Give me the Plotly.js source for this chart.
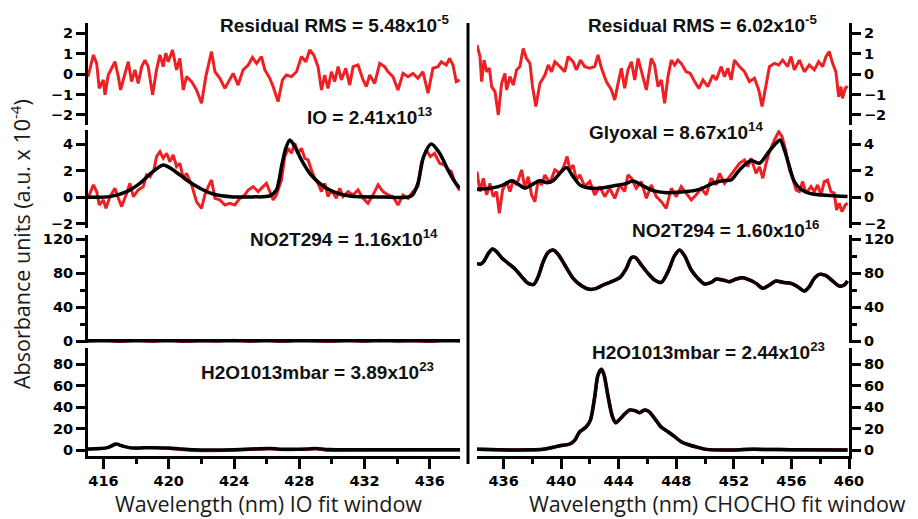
<!DOCTYPE html>
<html><head><meta charset="utf-8">
<script src="https://cdn.plot.ly/plotly-3.0.1.min.js"></script>
<style>html,body{margin:0;padding:0;background:#fff}#chart{width:918px;height:519px}</style>
</head><body><div id="chart"></div>
<script>
// ---------- DATA ----------
const resLeftX = [415.05,415.38,415.58,415.74,415.99,416.09,416.29,416.50,416.70,416.91,417.05,417.32,417.52,417.72,417.93,418.13,418.34,418.54,418.74,419.01,419.25,419.46,419.66,419.81,419.97,420.23,420.48,420.68,420.89,421.09,421.40,421.70,422.01,422.27,422.62,422.83,423.13,423.44,423.74,423.95,424.25,424.56,424.87,425.13,425.38,425.68,425.89,426.19,426.40,426.70,426.97,427.21,427.52,427.83,428.13,428.40,428.64,428.89,429.15,429.36,429.56,429.76,429.97,430.17,430.38,430.58,430.85,431.09,431.30,431.60,431.91,432.11,432.32,432.62,432.93,433.23,433.44,433.74,434.05,434.36,434.66,434.97,435.27,435.58,435.89,436.19,436.50,436.70,437.01,437.21,437.42,437.62,437.83];
const resLeftY = [-0.13,0.93,0.52,-0.70,-0.29,-1.02,-0.05,0.28,0.60,-0.13,-0.78,0.03,0.60,-0.37,0.20,-0.46,0.36,0.68,0.36,-1.02,0.20,0.93,0.36,1.01,0.60,1.17,0.20,0.76,-0.78,-0.13,-0.37,-0.78,-1.43,-0.13,1.09,0.11,-0.21,-0.70,-0.29,0.03,-0.54,0.20,0.44,0.81,0.52,0.85,0.20,-0.21,-0.62,-1.35,-0.29,-0.05,-0.13,0.11,0.85,0.60,1.17,0.93,0.36,-0.78,-0.05,-0.70,0.11,-0.37,0.36,-0.29,0.28,-0.54,0.36,0.44,-0.29,-0.62,-0.05,-0.46,0.52,0.36,0.11,-0.13,-0.78,0.03,-0.13,0.03,-0.21,0.11,-0.94,0.28,0.36,0.60,0.44,0.76,0.44,-0.37,-0.29];

const ioMeasX = [415.05,415.38,415.58,415.74,415.99,416.15,416.40,416.70,416.91,417.11,417.42,417.62,417.83,418.13,418.44,418.64,418.85,419.09,419.25,419.46,419.66,419.87,420.07,420.27,420.48,420.68,420.89,421.09,421.40,421.70,422.01,422.21,422.42,422.62,422.83,423.13,423.44,423.74,424.05,424.36,424.66,424.87,425.17,425.48,425.78,425.99,426.19,426.40,426.60,426.91,427.11,427.32,427.52,427.72,427.93,428.13,428.34,428.54,428.74,428.95,429.15,429.36,429.56,429.76,429.97,430.27,430.48,430.68,430.99,431.30,431.60,431.91,432.21,432.52,432.83,433.13,433.44,433.74,434.05,434.36,434.66,434.97,435.27,435.48,435.78,436.03,436.29,436.60,436.91,437.11,437.32,437.52,437.83];
const ioMeas = [-0.08,0.93,0.43,-0.58,-0.20,-0.83,0.05,0.68,-0.08,-0.70,0.30,1.05,0.05,0.55,0.80,1.68,1.55,2.06,3.06,3.43,2.93,3.31,2.68,3.18,2.31,2.56,1.43,1.80,0.93,-0.33,-0.83,0.18,0.80,1.30,-0.08,-0.20,-0.58,-0.45,-0.58,-0.08,0.18,0.55,0.80,0.43,0.80,1.05,0.43,-0.20,0.18,1.30,3.06,3.68,3.31,4.06,3.31,3.68,2.93,2.81,2.06,1.43,1.05,0.43,1.05,0.05,0.55,-0.08,0.68,0.05,0.43,0.18,0.55,-0.08,-0.45,0.18,0.93,0.43,0.18,0.05,-0.58,0.18,-0.08,0.43,0.80,2.56,3.56,3.06,3.31,2.56,2.43,2.06,1.93,1.18,0.50];
const ioFitX = [415.05,416.40,417.42,418.23,418.95,419.66,420.27,421.09,421.91,422.72,423.95,425.17,426.19,426.60,426.91,427.17,427.42,427.72,428.13,428.64,429.25,430.07,431.09,433.13,434.87,435.27,435.62,436.09,436.60,437.11,437.52,437.83];
const ioFit = [0.00,0.05,0.43,1.05,1.85,2.43,2.06,1.30,0.68,0.25,0.03,0.03,0.10,0.55,2.31,3.68,4.31,3.81,2.81,1.80,1.05,0.43,0.10,0.03,0.10,1.05,3.06,4.01,3.31,2.06,1.18,0.68];

const no2LeftX = [415.05,416,417,418,419,420,421,422,423,424,425,426,427,428,429,430,431,432,433,434,435,436,437,437.85];
const no2LeftFit = [0.4,0.4,0.3,0.3,0.4,0.3,0.3,0.3,0.4,0.3,0.3,0.3,0.3,0.3,0.3,0.3,0.3,0.3,0.3,0.3,0.3,0.3,0.3,0.3];
const no2LeftMeas = [-0.5,0.8,-1.2,0.6,-0.8,1.0,-1.5,0.4,-0.6,1.2,-1.0,0.5,-1.4,0.9,-0.3,-1.1,0.7,-0.9,1.1,-0.6,0.3,-1.3,0.8,-0.4];

const h2oLeftX = [415.05,415.8,416.3,416.75,417.2,417.7,419.0,420.0,420.7,421.5,424.0,426.2,426.8,428.5,429.0,429.8,432.0,437.85];
const h2oLeftFit = [1.0,1.3,2.5,5.5,3.5,2.0,2.2,1.8,1.0,0.3,0.3,1.5,0.8,1.0,1.5,0.4,0.2,0.2];
const h2oLeftMeas = [0.4,1.6,2.0,5.0,3.8,1.4,2.6,1.2,0.2,-0.8,-0.5,1.0,0.2,0.4,1.0,-0.6,-0.4,-0.3];

const resRightX = [434.15,434.36,434.47,434.64,434.82,435.01,435.17,435.40,435.63,435.86,436.09,436.21,436.44,436.67,436.90,437.13,437.36,437.59,437.83,438.01,438.24,438.52,438.87,439.10,439.33,439.56,439.91,440.25,440.48,440.83,441.06,441.34,441.64,441.99,442.33,442.56,442.80,443.14,443.49,443.72,443.95,444.18,444.41,444.64,444.88,445.11,445.34,445.64,445.92,446.26,446.49,446.73,446.96,447.19,447.42,447.65,447.88,448.11,448.34,448.69,448.97,449.27,449.57,449.85,450.19,450.54,450.77,451.12,451.35,451.58,451.81,452.04,452.39,452.74,453.08,453.43,453.73,453.96,454.19,454.47,454.82,455.12,455.39,455.74,455.97,456.20,456.55,456.90,457.24,457.59,457.89,458.17,458.40,458.63,458.86,459.09,459.28,459.44,459.55,459.74,459.90];
const resRightY = [1.41,0.85,-0.37,0.68,0.11,0.28,-0.62,-0.86,-2.00,-0.46,0.03,-0.78,-0.13,-0.54,0.20,0.36,1.25,0.76,0.52,-0.62,-1.59,-0.46,-0.05,0.44,0.11,0.60,0.36,0.11,0.85,0.60,0.20,0.68,0.36,0.28,0.36,0.93,0.28,-0.37,-0.78,-1.27,-0.46,0.28,-0.70,0.20,0.60,-0.29,0.76,0.03,-0.78,0.76,0.44,-0.62,-0.29,-1.43,-0.13,0.68,0.44,0.68,0.52,0.11,0.03,-0.37,-0.70,-0.29,-0.62,-0.05,-0.29,0.36,-0.13,0.28,-0.29,0.68,0.36,0.11,-0.37,-0.21,-0.78,-1.59,-0.62,0.36,0.52,0.44,0.68,0.36,0.85,0.20,0.68,0.11,0.44,0.20,0.60,0.36,0.85,1.09,0.52,0.11,-1.11,-0.62,-1.19,-0.70,-0.59];

const glyMeasX = [434.15,434.36,434.59,434.82,435.05,435.28,435.51,435.70,435.93,436.21,436.44,436.67,436.90,437.25,437.48,437.71,437.94,438.17,438.40,438.63,438.87,439.21,439.56,439.91,440.18,440.41,440.60,440.83,441.06,441.29,441.64,441.99,442.33,442.68,443.03,443.37,443.72,444.07,444.41,444.64,444.88,445.22,445.57,445.92,446.26,446.61,446.96,447.30,447.65,448.00,448.34,448.69,449.04,449.38,449.73,450.08,450.42,450.77,451.00,451.35,451.69,452.04,452.39,452.74,452.97,453.20,453.54,453.78,454.01,454.24,454.47,454.82,455.12,455.35,455.62,455.86,456.09,456.32,456.55,456.78,457.01,457.36,457.59,457.82,458.05,458.28,458.51,458.74,458.97,459.14,459.32,459.51,459.74,459.90];
const glyMeas = [1.93,0.43,1.43,0.18,1.05,0.05,0.43,-1.20,0.55,1.18,0.43,1.30,0.93,2.06,0.68,1.55,0.18,-0.33,1.30,0.93,1.68,1.05,2.06,1.80,2.31,3.06,2.06,2.43,1.30,1.68,0.80,1.18,0.18,0.80,0.05,0.68,-0.08,0.93,0.43,1.68,1.43,0.68,1.18,-0.08,0.93,0.05,-0.33,-0.83,0.68,0.05,0.80,0.30,-0.20,0.18,0.68,0.18,1.43,0.93,1.80,1.05,1.55,2.06,2.56,2.81,2.31,2.93,1.80,2.31,1.43,2.56,3.43,4.31,4.94,4.56,3.43,2.06,1.43,0.55,0.43,1.18,0.30,0.80,0.43,0.93,0.18,1.18,1.30,0.43,0.30,-0.95,-0.45,-1.08,-0.58,-0.45];
const glyFitX = [434.15,435.05,435.63,436.09,436.55,437.02,437.48,437.94,438.52,438.98,439.44,439.91,440.37,440.83,441.29,441.76,442.68,443.60,444.53,444.99,445.57,446.38,447.30,448.69,449.61,450.54,451.23,451.81,452.39,453.20,453.78,454.35,454.82,455.21,455.51,455.86,456.20,456.67,457.47,458.40,459.90];
const glyFit = [0.60,0.68,0.80,1.00,1.25,0.98,0.68,0.93,1.25,1.10,1.25,1.80,2.23,1.55,0.93,0.73,0.68,0.85,1.05,1.23,0.93,0.50,0.35,0.43,0.60,1.05,1.25,1.30,2.06,2.76,2.56,3.31,3.93,4.31,3.56,2.31,1.18,0.60,0.25,0.15,0.05];

const no2RightX = [434.15,434.36,434.64,434.94,435.24,435.51,435.86,436.32,436.79,437.25,437.71,438.10,438.40,438.75,439.10,439.44,439.79,440.25,440.83,441.41,441.99,442.45,442.91,443.49,444.07,444.53,444.88,445.18,445.57,446.03,446.49,446.96,447.42,447.88,448.23,448.57,449.04,449.50,449.96,450.42,450.77,451.23,451.69,452.16,452.62,453.08,453.54,454.01,454.47,454.93,455.39,455.97,456.43,456.90,457.24,457.59,457.94,458.40,458.86,459.32,459.67,459.90];
const no2Right = [91.4,90.2,94.1,103.1,108.2,105.1,98.0,91.4,84.7,75.7,67.8,66.7,75.7,93.3,104.3,107.1,102.0,89.4,73.7,65.1,60.8,62.0,65.9,69.8,74.5,85.5,98.0,98.0,89.4,79.6,71.8,69.0,81.6,100.4,107.1,100.4,83.5,73.7,67.1,69.0,72.9,71.8,69.8,72.9,74.5,71.8,67.8,62.0,65.9,70.6,69.0,67.8,63.9,58.8,63.9,73.7,78.4,76.9,70.6,64.7,65.9,70.6];

const h2oRightX = [434.15,436.44,438.75,439.44,439.91,440.60,440.95,441.29,441.71,442.03,442.33,442.56,442.80,442.98,443.26,443.56,443.79,444.07,444.41,444.76,445.11,445.45,445.80,446.10,446.49,446.96,447.42,447.88,448.34,448.92,449.50,450.08,451.46,453.31,456.09,459.90];
const h2oRight = [0.6,0.0,0.6,2.5,4.0,5.6,9.3,17.1,21.2,28.0,49.8,70.1,75.4,70.1,49.8,31.2,25.5,28.7,33.6,37.4,36.8,34.9,37.4,35.8,29.6,21.2,17.1,12.5,7.8,4.7,2.5,0.6,0.0,0.6,0.3,0.0];

const leftTickVals = [416,420,424,428,432,436];
const rightTickVals = [436,440,444,448,452,456,460];

// ---------- LAYOUT HELPERS ----------
const W=918,H=519,L=88,R=69,T=23,B=63;
const PW=W-L-R, PH=H-T-B;
const fx = p => (p-L)/PW;
const fy = p => (H-B-p)/PH;
const RED='#ee2024', BLK='#000000';
const tickFont={family:'DejaVu Sans, Arial, sans-serif',size:14.5,color:'#000',weight:'bold'};

function yax(domPx, range, dtick, side, anchor, minorDtick){
  const a={domain:[fy(domPx[1]),fy(domPx[0])],range:range,dtick:dtick,tick0:0,side:side,anchor:anchor,
    showline:true,linewidth:3,linecolor:'#000',ticks:'outside',ticklen:9,tickwidth:3,tickcolor:'#000',
    showgrid:false,zeroline:false,tickfont:tickFont,fixedrange:true};
  if(minorDtick){a.minor={dtick:minorDtick,ticks:'outside',ticklen:5,tickwidth:3,tickcolor:'#000',showgrid:false};}
  return a;
}
function xax(dom, range, tickvals, anchor){
  return {domain:dom,range:range,tickvals:tickvals,anchor:anchor,showline:true,linewidth:3,linecolor:'#000',
    ticks:'outside',ticklen:10,tickwidth:3,tickcolor:'#000',showgrid:false,zeroline:false,tickfont:tickFont,
    minor:{dtick:2,tick0:416,ticks:'outside',ticklen:5,tickwidth:3,tickcolor:'#000',showgrid:false},fixedrange:true};
}
const P1=[23,125],P2=[130,228],P3=[235,343],P4=[348,456];
const xl=[0,fx(460)], xr=[fx(477),1];

function line(x,y,xa,ya,color,w,shape){
  return {x:x,y:y,xaxis:xa,yaxis:ya,type:'scatter',mode:'lines',line:{color:color,width:w,shape:shape||'linear',smoothing:0.8},hoverinfo:'skip',showlegend:false};
}
const traces=[
  line(resLeftX,resLeftY,'x','y',RED,3),
  line(ioMeasX,ioMeas,'x','y2',RED,3),
  line(ioFitX,ioFit,'x','y2',BLK,3.5,'spline'),
  line(no2LeftX,no2LeftMeas,'x','y3',RED,2.5),
  line(no2LeftX,no2LeftFit,'x','y3',BLK,3.5),
  line(h2oLeftX,h2oLeftMeas,'x','y4',RED,2.5,'spline'),
  line(h2oLeftX,h2oLeftFit,'x','y4',BLK,3.5,'spline'),
  line(resRightX,resRightY,'x2','y5',RED,3),
  line(glyMeasX,glyMeas,'x2','y6',RED,3),
  line(glyFitX,glyFit,'x2','y6',BLK,3.5,'spline'),
  line(no2RightX,no2Right,'x2','y7',RED,3.5,'spline'),
  line(no2RightX,no2Right,'x2','y7',BLK,3.5,'spline'),
  line(h2oRightX,h2oRight,'x2','y8',RED,3.5,'spline'),
  line(h2oRightX,h2oRight,'x2','y8',BLK,3.5,'spline')
];

const annFont={family:'Liberation Sans, Arial, sans-serif',size:19,color:'#111',weight:'bold'};
function lab(text,xpx,ypx){
  return {text:text,xref:'paper',yref:'paper',x:fx(xpx),y:fy(ypx),xanchor:'left',yanchor:'middle',showarrow:false,font:annFont};
}
const titleFont={family:'Open Sans, Lato, sans-serif',size:21.5,color:'#1a1a1a'};
const annotations=[
  lab('Residual RMS = 5.48x10<sup>-5</sup>',218,24),
  lab('IO = 2.41x10<sup>13</sup>',305,116),
  lab('NO2T294 = 1.16x10<sup>14</sup>',248,238),
  lab('H2O1013mbar = 3.89x10<sup>23</sup>',199,371),
  lab('Residual RMS = 6.02x10<sup>-5</sup>',586,24),
  lab('Glyoxal = 8.67x10<sup>14</sup>',587,131),
  lab('NO2T294 = 1.60x10<sup>16</sup>',630,229),
  lab('H2O1013mbar = 2.44x10<sup>23</sup>',590,351),
  {text:'Wavelength (nm) IO fit window',xref:'paper',yref:'paper',x:fx(268),y:fy(503.5),xanchor:'center',yanchor:'middle',showarrow:false,font:titleFont},
  {text:'Wavelength (nm) CHOCHO fit window',xref:'paper',yref:'paper',x:fx(717),y:fy(503.5),xanchor:'center',yanchor:'middle',showarrow:false,font:titleFont},
  {text:'Absorbance units (a.u. x 10<sup>-4</sup>)',xref:'paper',yref:'paper',x:fx(20),y:fy(244),xanchor:'center',yanchor:'middle',textangle:-90,showarrow:false,font:titleFont}
];

const layout={
  width:W,height:H,margin:{l:L,r:R,t:T,b:B,pad:0},paper_bgcolor:'#fff',plot_bgcolor:'#fff',showlegend:false,
  xaxis:xax(xl,[415.05,437.85],leftTickVals,'y4'),
  xaxis2:xax(xr,[434.15,460],rightTickVals,'y8'),
  yaxis:yax(P1,[-2.49,2.49],1,'left','x'),
  yaxis2:yax(P2,[-2.31,5.06],2,'left','x'),
  yaxis3:yax(P3,[-2.35,124.7],40,'left','x',20),
  yaxis4:yax(P4,[-5.6,95.3],20,'left','x'),
  yaxis5:yax(P1,[-2.49,2.49],1,'right','x2'),
  yaxis6:yax(P2,[-2.31,5.06],2,'right','x2'),
  yaxis7:yax(P3,[-2.35,124.7],40,'right','x2',20),
  yaxis8:yax(P4,[-5.6,95.3],20,'right','x2'),
  annotations:annotations,
  shapes:[{type:'line',xref:'paper',yref:'paper',x0:fx(468),x1:fx(468),y0:fy(23),y1:fy(464),line:{color:'#000',width:3}}]
};
Plotly.newPlot('chart',traces,layout,{staticPlot:true,displayModeBar:false});
</script></body></html>
